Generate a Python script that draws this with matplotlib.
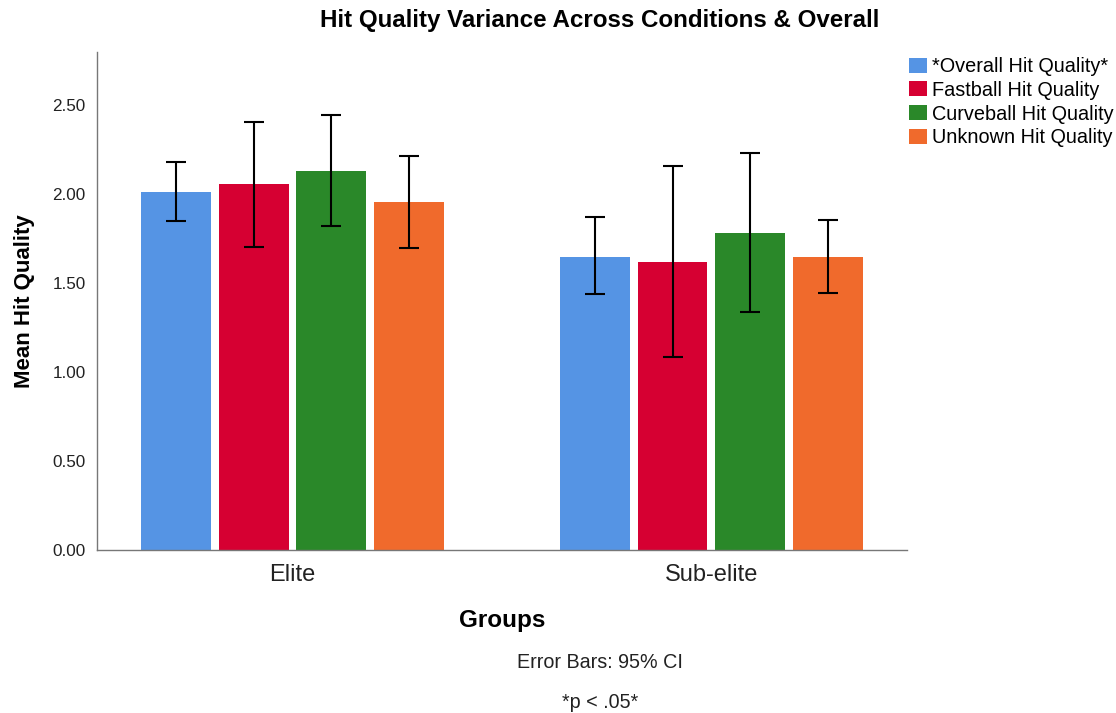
import numpy as np
import matplotlib
matplotlib.use("Agg")
import matplotlib.pyplot as plt
from matplotlib.patches import Patch

plt.rcParams['font.family'] = ['Liberation Sans', 'DejaVu Sans']

groups = ["Elite", "Sub-elite"]
series = ["*Overall Hit Quality*", "Fastball Hit Quality",
          "Curveball Hit Quality", "Unknown Hit Quality"]
colors = ["#5594E4", "#D60032", "#2A8829", "#F06A2C"]

# mean and 95% CI bounds per series, [Elite, Sub-elite]
means = [[2.01, 1.65], [2.055, 1.62], [2.13, 1.78], [1.955, 1.645]]
ci_low = [[1.85, 1.44], [1.705, 1.085], [1.82, 1.34], [1.697, 1.443]]
ci_high = [[2.18, 1.87], [2.405, 2.16], [2.445, 2.23], [2.213, 1.853]]


def main():
    fig = plt.figure(figsize=(11.16, 7.13), dpi=100)
    ax = fig.add_axes([0.0869, 0.2286, 0.7258, 0.6985])

    x = np.arange(len(groups))
    width = 0.166
    step = 0.185
    for i, name in enumerate(series):
        pos = x + (i - 1.5) * step
        m = np.array(means[i])
        err = [m - np.array(ci_low[i]), np.array(ci_high[i]) - m]
        ax.bar(pos, m, width=width, color=colors[i], label=name, zorder=2)
        ax.errorbar(pos, m, yerr=err, fmt="none", ecolor="black", elinewidth=1.5,
                    capsize=7.5, capthick=1.5, zorder=3)

    ax.set_xlim(-0.4666, 1.4666)
    ax.set_ylim(0, 2.8)
    yt = [0, 0.5, 1.0, 1.5, 2.0, 2.5]
    ax.set_yticks(yt)
    ax.set_yticklabels(["%.2f" % v for v in yt], fontsize=12.3, color="#222222")
    ax.set_xticks(x)
    ax.set_xticklabels(groups, fontsize=17, color="#222222")
    ax.tick_params(axis="y", length=0, pad=8)
    ax.tick_params(axis="x", length=0, pad=10)
    ax.spines["top"].set_visible(False)
    ax.spines["right"].set_visible(False)
    for s in ["left", "bottom"]:
        ax.spines[s].set_color("#777777")
        ax.spines[s].set_linewidth(1.0)

    fig.text(600 / 1116, 1 - 20 / 713, "Hit Quality Variance Across Conditions & Overall",
             ha="center", va="center", fontsize=17.4, fontweight="bold")
    fig.text(25 / 1116, 1 - 301 / 713, "Mean Hit Quality", rotation=90,
             ha="center", va="center", fontsize=16, fontweight="bold")
    fig.text(502 / 1116, 1 - 620 / 713, "Groups", ha="center", va="center",
             fontsize=17.5, fontweight="bold")
    fig.text(600 / 1116, 1 - 663 / 713, "Error Bars: 95% CI", ha="center", va="center",
             fontsize=14.2, color="#222222")
    fig.text(600 / 1116, 1 - 702 / 713, "*p < .05*", ha="center", va="center",
             fontsize=14.2, color="#222222")

    handles = [Patch(facecolor=c, edgecolor="none") for c in colors]
    fig.legend(handles, series, loc="upper left", bbox_to_anchor=(909 / 1116, 1 - 57 / 713),
               frameon=False, fontsize=14.3, handlelength=0.9, handleheight=0.8,
               handletextpad=0.25, labelspacing=0.24, borderaxespad=0, borderpad=0)

    fig.savefig("out.png", dpi=100)
    plt.close()


if __name__ == "__main__":
    main()
